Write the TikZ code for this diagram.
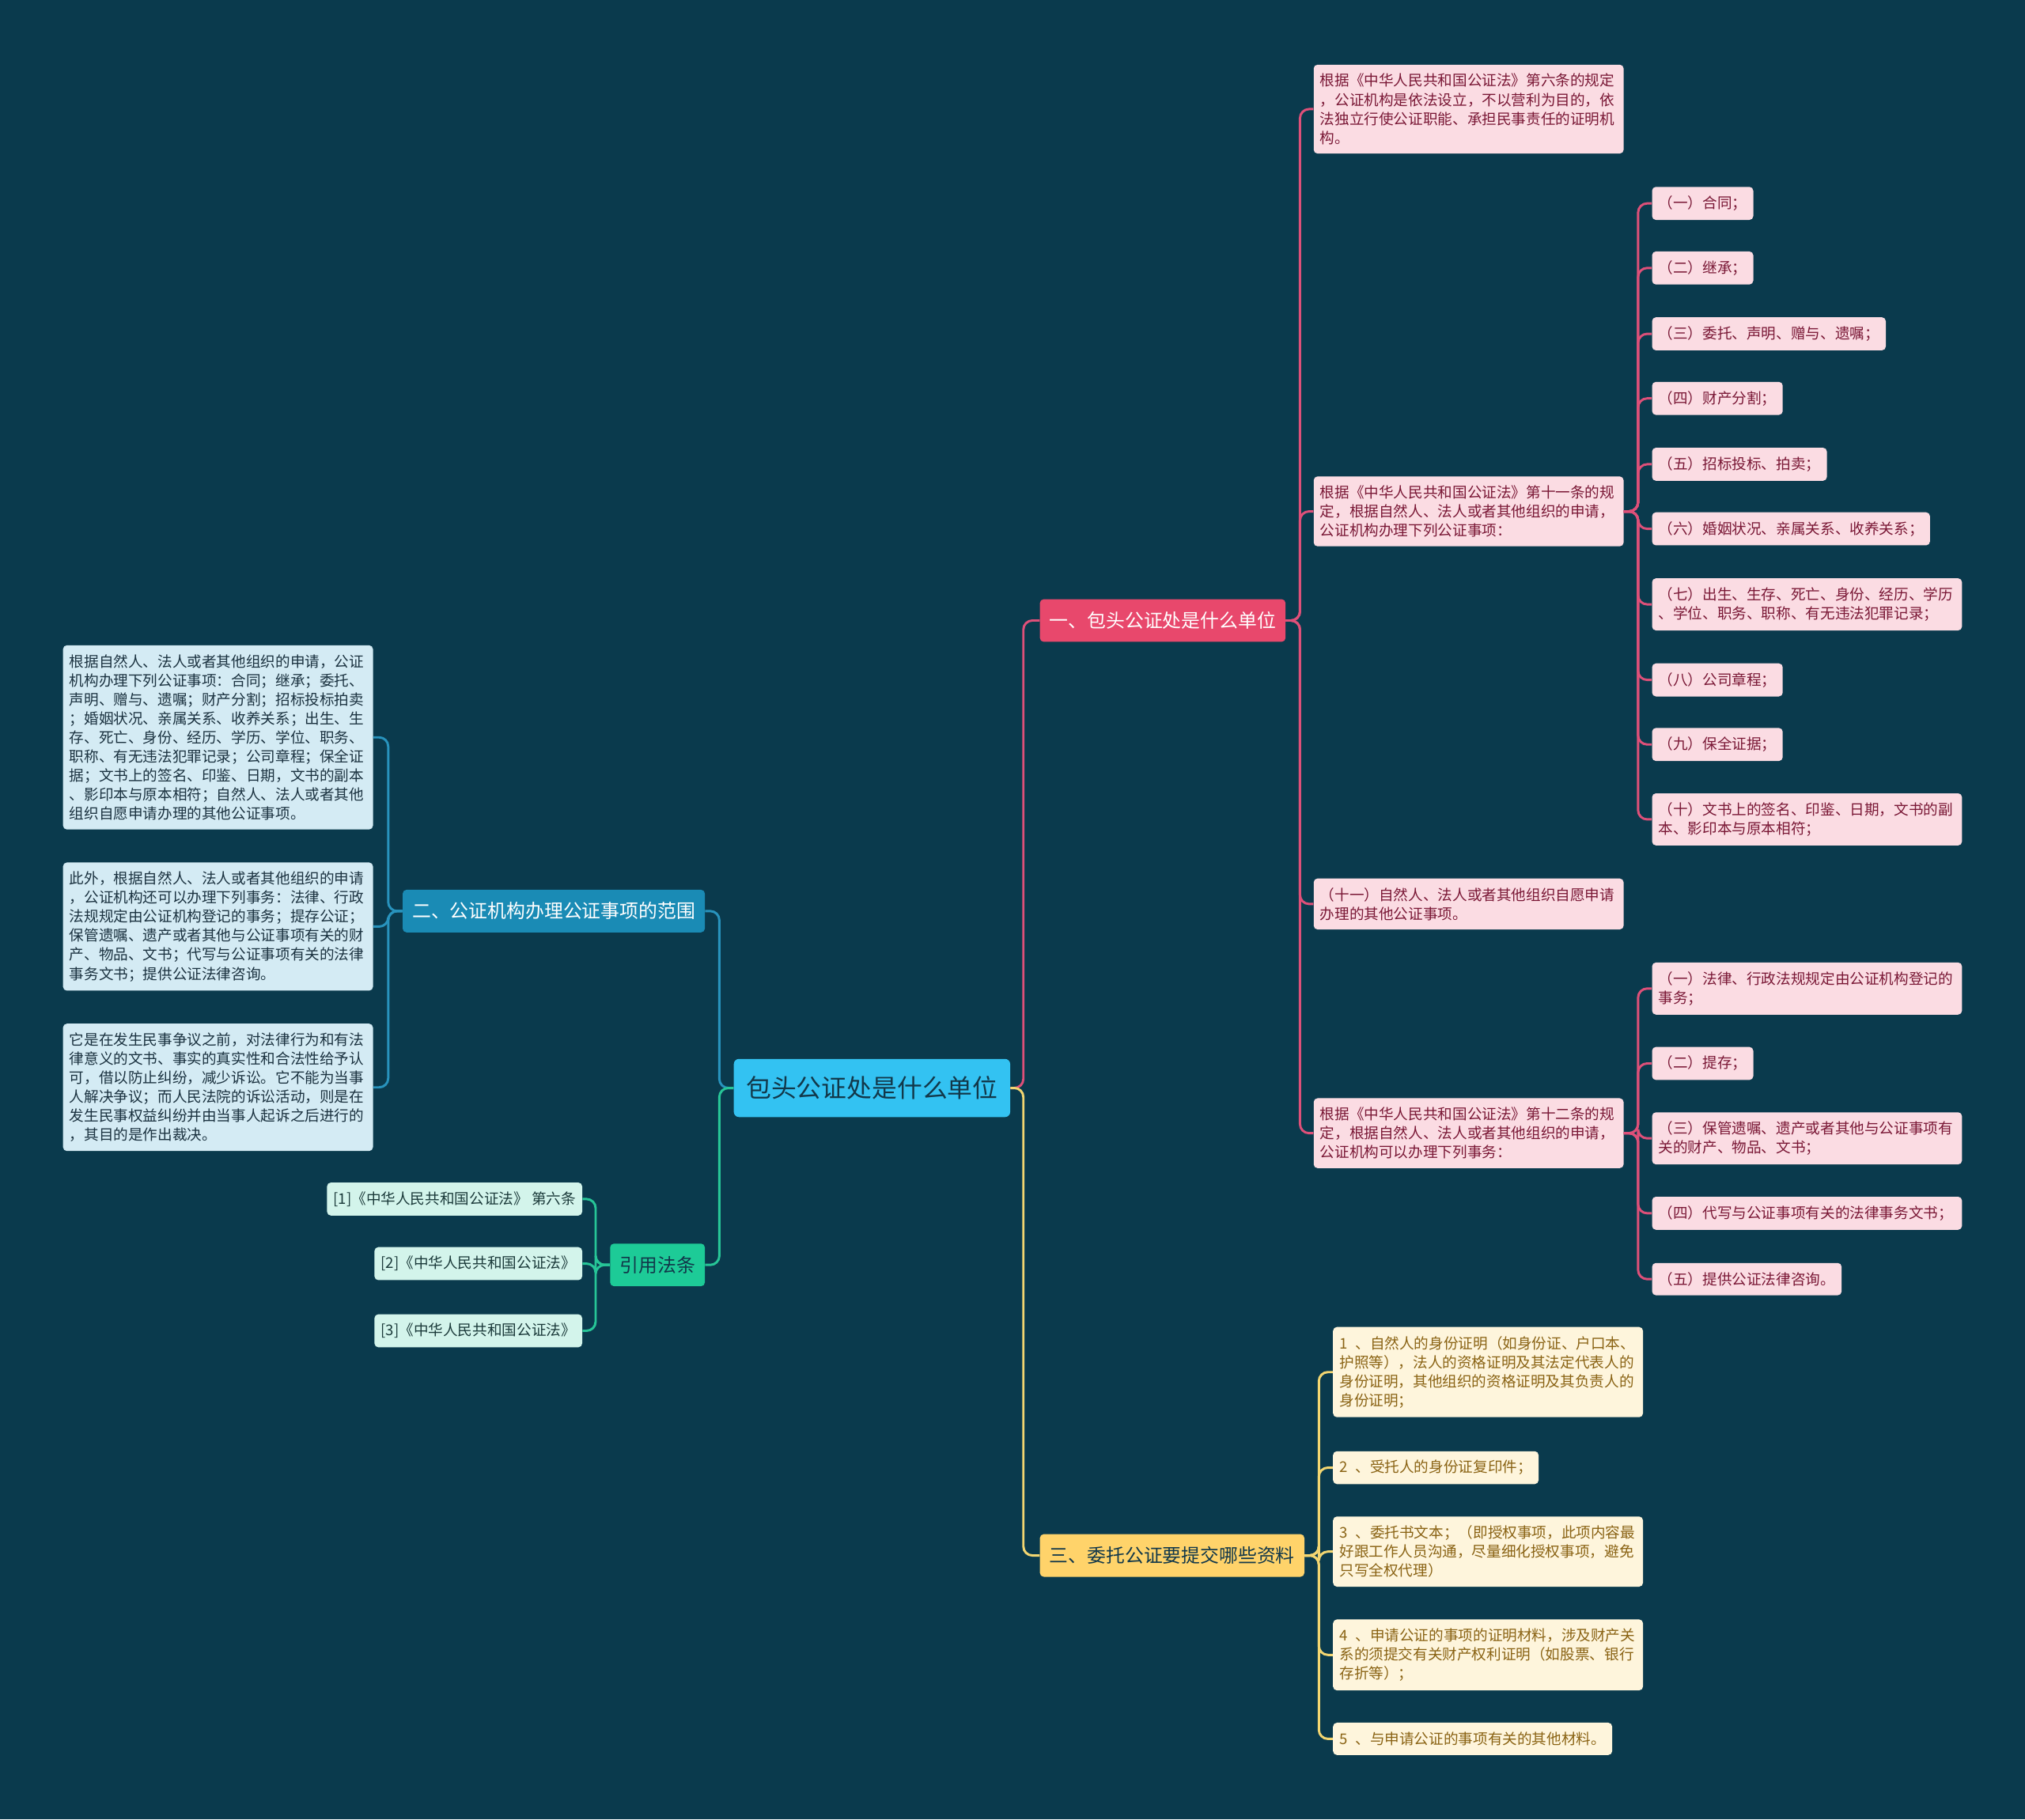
\documentclass[tikz,border=0pt]{standalone}
\usepackage{fontspec}
\setmainfont{Noto Sans CJK SC}
\definecolor{bgnavy}{HTML}{0A3A4D}
\definecolor{rootblue}{HTML}{33C2F2}
\definecolor{roottext}{HTML}{12384A}
\definecolor{rose}{HTML}{E8486C}
\definecolor{roseline}{HTML}{DE5079}
\definecolor{rosepale}{HTML}{FBDCE3}
\definecolor{rosetext}{HTML}{7A1836}
\definecolor{sea}{HTML}{1A8BB5}
\definecolor{sealine}{HTML}{2893BD}
\definecolor{seapale}{HTML}{D4EBF4}
\definecolor{seatext}{HTML}{1B3240}
\definecolor{sun}{HTML}{FFD36A}
\definecolor{sunline}{HTML}{F3D671}
\definecolor{sunpale}{HTML}{FEF5DC}
\definecolor{suntext}{HTML}{8A6314}
\definecolor{mint}{HTML}{1DCB97}
\definecolor{mintline}{HTML}{27C597}
\definecolor{mintpale}{HTML}{D3F4EB}
\definecolor{minttext}{HTML}{1B3A3A}
\newcommand\numgap{\hspace{6pt}}

\begin{document}
\begin{tikzpicture}[x=1pt,y=-1pt,
  leaf/.style={rounded corners=3pt,inner xsep=5pt,inner ysep=7pt,minimum height=25pt,
    align=left,font=\fontsize{11.4}{14.75}\selectfont},
  wide/.style={text width=230pt},
  roseleaf/.style={leaf,fill=rosepale,text=rosetext,anchor=west},
  sealeaf/.style={leaf,fill=seapale,text=seatext,anchor=east,wide},
  sunleaf/.style={leaf,fill=sunpale,text=suntext,anchor=west},
  mintleaf/.style={leaf,fill=mintpale,text=minttext,anchor=east},
  branch/.style={rounded corners=3pt,inner xsep=7.5pt,minimum height=33pt,
    font=\fontsize{14.6}{17}\selectfont},
  link/.style={line width=1.8pt,rounded corners=7pt}]
  \useasboundingbox (0,0) rectangle (1568,1409);
  \fill[bgnavy] (0,0) rectangle (1568,1409);

  % ----- root -----
  \node[fill=rootblue,text=roottext,rounded corners=4pt,inner xsep=9.5pt,minimum height=45pt,
    font=\fontsize{19.5}{22}\selectfont,anchor=west] (root) at (568,842.5){包头公证处是什么单位};

  % ----- main branches -----
  \node[branch,fill=rose,text=white,anchor=west] (b1) at (805,480.5){一、包头公证处是什么单位};
  \node[branch,fill=sea,text=white,anchor=east] (b2) at (546,705.5){二、公证机构办理公证事项的范围};
  \node[branch,fill=sun,text=roottext,anchor=west] (b3) at (805,1204.5){三、委托公证要提交哪些资料};
  \node[branch,fill=mint,text=roottext,anchor=east] (b4) at (546,979.5){引用法条};

  \draw[link,roseline] (root.east) -- ++(10,0) |- (b1.west);
  \draw[link,sunline] (root.east) -- ++(10,0) |- (b3.west);
  \draw[link,sealine] (root.west) -- ++(-11,0) |- (b2.east);
  \draw[link,mintline] (root.west) -- ++(-11,0) |- (b4.east);

  % ----- branch one -----
  \node[roseleaf,wide] (r1) at (1017,84.5){根据《中华人民共和国公证法》第六条的规定\\，公证机构是依法设立，不以营利为目的，依\\法独立行使公证职能、承担民事责任的证明机\\构。};
  \node[roseleaf,wide] (r2) at (1017,396){根据《中华人民共和国公证法》第十一条的规\\定，根据自然人、法人或者其他组织的申请，\\公证机构办理下列公证事项：};
  \node[roseleaf,wide] (r3) at (1017,700){（十一）自然人、法人或者其他组织自愿申请\\办理的其他公证事项。};
  \node[roseleaf,wide] (r4) at (1017,877.5){根据《中华人民共和国公证法》第十二条的规\\定，根据自然人、法人或者其他组织的申请，\\公证机构可以办理下列事务：};
  \foreach \n in {r1,r2,r3,r4}
    \draw[link,roseline] (b1.east) -- ++(11,0) |- (\n.west);

  \node[roseleaf] (s1) at (1279,157.5){（一）合同；};
  \node[roseleaf] (s2) at (1279,207.5){（二）继承；};
  \node[roseleaf] (s3) at (1279,258.5){（三）委托、声明、赠与、遗嘱；};
  \node[roseleaf] (s4) at (1279,308.5){（四）财产分割；};
  \node[roseleaf] (s5) at (1279,359.5){（五）招标投标、拍卖；};
  \node[roseleaf] (s6) at (1279,409.5){（六）婚姻状况、亲属关系、收养关系；};
  \node[roseleaf,wide] (s7) at (1279,468){（七）出生、生存、死亡、身份、经历、学历\\、学位、职务、职称、有无违法犯罪记录；};
  \node[roseleaf] (s8) at (1279,526.5){（八）公司章程；};
  \node[roseleaf] (s9) at (1279,576.5){（九）保全证据；};
  \node[roseleaf,wide] (s10) at (1279,634.5){（十）文书上的签名、印鉴、日期，文书的副\\本、影印本与原本相符；};
  \foreach \n in {s1,s2,s3,s4,s5,s6,s7,s8,s9,s10}
    \draw[link,roseline] (r2.east) -- ++(11,0) |- (\n.west);

  \node[roseleaf,wide] (t1) at (1279,765.5){（一）法律、行政法规规定由公证机构登记的\\事务；};
  \node[roseleaf] (t2) at (1279,823.5){（二）提存；};
  \node[roseleaf,wide] (t3) at (1279,881.5){（三）保管遗嘱、遗产或者其他与公证事项有\\关的财产、物品、文书；};
  \node[roseleaf,wide] (t4) at (1279,939.5){（四）代写与公证事项有关的法律事务文书；};
  \node[roseleaf] (t5) at (1279,990.5){（五）提供公证法律咨询。};
  \foreach \n in {t1,t2,t3,t4,t5}
    \draw[link,roseline] (r4.east) -- ++(11,0) |- (\n.west);

  % ----- branch two -----
  \node[sealeaf] (e1) at (289,571){根据自然人、法人或者其他组织的申请，公证\\机构办理下列公证事项：合同；继承；委托、\\声明、赠与、遗嘱；财产分割；招标投标拍卖\\；婚姻状况、亲属关系、收养关系；出生、生\\存、死亡、身份、经历、学历、学位、职务、\\职称、有无违法犯罪记录；公司章程；保全证\\据；文书上的签名、印鉴、日期，文书的副本\\、影印本与原本相符；自然人、法人或者其他\\组织自愿申请办理的其他公证事项。};
  \node[sealeaf] (e2) at (289,717.5){此外，根据自然人、法人或者其他组织的申请\\，公证机构还可以办理下列事务：法律、行政\\法规规定由公证机构登记的事务；提存公证；\\保管遗嘱、遗产或者其他与公证事项有关的财\\产、物品、文书；代写与公证事项有关的法律\\事务文书；提供公证法律咨询。};
  \node[sealeaf] (e3) at (289,842){它是在发生民事争议之前，对法律行为和有法\\律意义的文书、事实的真实性和合法性给予认\\可，借以防止纠纷，减少诉讼。它不能为当事\\人解决争议；而人民法院的诉讼活动，则是在\\发生民事权益纠纷并由当事人起诉之后进行的\\，其目的是作出裁决。};
  \foreach \n in {e1,e2,e3}
    \draw[link,sealine] (b2.west) -- ++(-11,0) |- (\n.east);

  % ----- branch three -----
  \node[sunleaf,wide] (y1) at (1032,1062.5){1\numgap、自然人的身份证明（如身份证、户口本、\\护照等），法人的资格证明及其法定代表人的\\身份证明，其他组织的资格证明及其负责人的\\身份证明；};
  \node[sunleaf] (y2) at (1032,1136.5){2\numgap、受托人的身份证复印件；};
  \node[sunleaf,wide] (y3) at (1032,1201.5){3\numgap、委托书文本；（即授权事项，此项内容最\\好跟工作人员沟通，尽量细化授权事项，避免\\只写全权代理）};
  \node[sunleaf,wide] (y4) at (1032,1281.5){4\numgap、申请公证的事项的证明材料，涉及财产关\\系的须提交有关财产权利证明（如股票、银行\\存折等）；};
  \node[sunleaf] (y5) at (1032,1346.5){5\numgap、与申请公证的事项有关的其他材料。};
  \foreach \n in {y1,y2,y3,y4,y5}
    \draw[link,sunline] (b3.east) -- ++(11,0) |- (\n.west);

  % ----- cited laws -----
  \node[mintleaf] (g1) at (451,928.5){[1]《中华人民共和国公证法》 第六条};
  \node[mintleaf] (g2) at (451,978.5){[2]《中华人民共和国公证法》};
  \node[mintleaf] (g3) at (451,1030.5){[3]《中华人民共和国公证法》};
  \foreach \n in {g1,g2,g3}
    \draw[link,mintline] (b4.west) -- ++(-11,0) |- (\n.east);
\end{tikzpicture}
\end{document}
